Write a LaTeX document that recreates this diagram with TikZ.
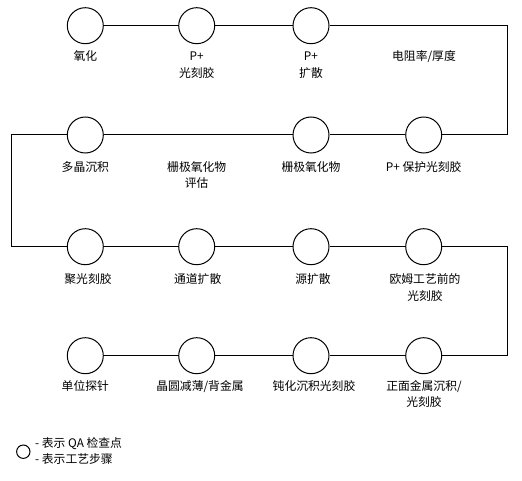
\documentclass[tikz,border=0pt]{standalone}
\usepackage{fontspec}
\setmainfont{Noto Sans CJK SC}
\begin{document}
\begin{tikzpicture}[x=1pt,y=-1pt,
  qa/.style={circle,draw,line width=1pt,minimum size=36pt,inner sep=0pt},
  lab/.style={anchor=base,align=center,inner sep=0pt,font=\fontsize{11.8}{16.7}\selectfont},
  conn/.style={line width=1pt}]
\useasboundingbox (0,0) rectangle (522,481);
% row 1
\node[qa] (c11) at (85.3,25.7) {};
\node[qa] (c12) at (196.7,25.7) {};
\node[qa] (c13) at (311,25.7) {};
% row 2
\node[qa] (c21) at (85.3,135) {};
\node[qa] (c23) at (311,135) {};
\node[qa] (c24) at (423.7,135) {};
% row 3
\node[qa] (c31) at (85.3,246.7) {};
\node[qa] (c32) at (196.7,246.7) {};
\node[qa] (c33) at (311,246.7) {};
\node[qa] (c34) at (423.7,246.7) {};
% row 4
\node[qa] (c41) at (85.3,355.7) {};
\node[qa] (c42) at (196.7,355.7) {};
\node[qa] (c43) at (311,355.7) {};
\node[qa] (c44) at (423.7,355.7) {};
% turning points
\coordinate (r1) at (507.3,25.7);
\coordinate (r2) at (507.3,135);
\coordinate (l2) at (11,135);
\coordinate (l3) at (11,246.7);
\coordinate (r3) at (507.3,246.7);
\coordinate (r4) at (507.3,355.7);
\draw[conn] (c11) -- (c12) -- (c13) -- (r1) -- (r2) -- (c24) -- (c23) -- (c21) -- (l2) -- (l3) -- (c31) -- (c32) -- (c33) -- (c34) -- (r3) -- (r4) -- (c44) -- (c43) -- (c42) -- (c41);
% labels (base = baseline of last line)
\node[lab] (t11) at (85.3,60.6) {氧化};
\node[lab] (t12) at (196.7,77.3) {P+\\光刻胶};
\node[lab] (t13) at (311,77.3) {P+\\扩散};
\node[lab] (t14) at (424,60.6) {电阻率/厚度};
\node[lab] (t21) at (85.3,171.2) {多晶沉积};
\node[lab] (t22) at (196.7,187.9) {栅极氧化物\\评估};
\node[lab] (t23) at (311,171.2) {栅极氧化物};
\node[lab] (t24) at (423.7,171.2) {P+ 保护光刻胶};
\node[lab] (t31) at (88,283.6) {聚光刻胶};
\node[lab] (t32) at (197.7,283.6) {通道扩散};
\node[lab] (t33) at (313,283.6) {源扩散};
\node[lab] (t34) at (425,300.3) {欧姆工艺前的\\光刻胶};
\node[lab] (t41) at (85.3,390.2) {单位探针};
\node[lab] (t42) at (200,390.2) {晶圆减薄/背金属};
\node[lab] (t43) at (314,390.2) {钝化沉积光刻胶};
\node[lab] (t44) at (424,406.9) {正面金属沉积/\\光刻胶};
% legend
\node[circle,draw,line width=1pt,minimum size=13.4pt,inner sep=0pt] (lg) at (23.3,451.7) {};
\node[lab,anchor=base west] (lt1) at (35,447.2) {- 表示 QA 检查点};
\node[lab,anchor=base west] (lt2) at (35,463.9) {- 表示工艺步骤};
\end{tikzpicture}
\end{document}
